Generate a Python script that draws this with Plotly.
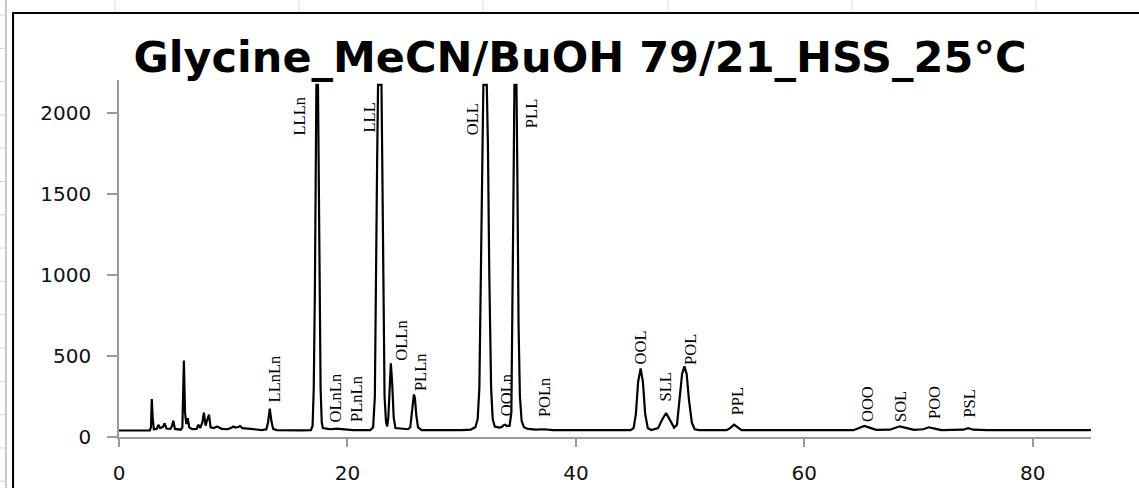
import plotly.graph_objects as go

# chromatogram trace (retention time in min, signal)
rt = [0.0, 1.0, 2.0, 2.7, 2.8, 2.87, 2.95, 3.05, 3.3, 3.45, 3.6, 3.85, 4.0, 4.15,
      4.5, 4.65, 4.75, 4.9, 5.4, 5.55, 5.68, 5.78, 5.9, 6.02, 6.15, 6.4, 6.8,
      6.95, 7.1, 7.3, 7.43, 7.58, 7.7, 7.88, 8.02, 8.3, 8.6, 8.75, 9.0, 9.5,
      9.8, 10.0, 10.2, 10.45, 10.6, 10.8, 11.2, 11.6, 12.5, 12.9, 13.05, 13.2,
      13.35, 13.5, 13.8, 16.0, 16.8, 16.95, 17.05, 17.15, 17.22, 17.28, 17.42,
      17.48, 17.55, 17.65, 17.75, 17.85, 18.3, 18.6, 19.0, 19.3, 19.8, 20.5,
      22.0, 22.25, 22.4, 22.5, 22.6, 22.68, 22.98, 23.05, 23.15, 23.25, 23.38,
      23.48, 23.58, 23.68, 23.8, 23.92, 24.05, 24.2, 25.3, 25.5, 25.62, 25.73,
      25.82, 25.91, 26.02, 26.18, 26.5, 30.0, 30.8, 31.2, 31.4, 31.55, 31.7,
      31.82, 31.9, 32.2, 32.3, 32.42, 32.58, 32.72, 32.9, 33.3, 33.5, 33.65,
      33.8, 33.95, 34.2, 34.35, 34.45, 34.55, 34.62, 34.8, 34.88, 34.98, 35.1,
      35.25, 35.45, 35.8, 36.5, 37.2, 38.0, 43.5, 44.8, 45.05, 45.25, 45.45,
      45.67, 45.87, 46.07, 46.3, 46.6, 47.2, 47.5, 47.9, 48.25, 48.6, 48.85,
      49.1, 49.3, 49.5, 49.7, 49.9, 50.15, 50.4, 50.8, 53.2, 53.5, 53.85, 54.2,
      54.5, 64.3, 64.8, 65.25, 65.7, 66.3, 67.5, 68.0, 68.35, 68.8, 69.6, 70.4,
      70.9, 71.4, 72.0, 73.9, 74.35, 74.8, 76.0, 85.1]
signal = [40, 41, 40, 41, 60, 234, 120, 48, 50, 75, 55, 62, 85, 52,
          50, 70, 100, 50, 45, 60, 473, 150, 80, 117, 60, 48, 50,
          76, 55, 90, 150, 70, 100, 138, 60, 55, 65, 60, 50, 48,
          55, 65, 58, 62, 68, 55, 52, 48, 43, 48, 90, 175,
          95, 50, 43, 41, 42, 70, 300, 900, 1700, 2175, 2175,
          1700, 900, 300, 90, 55, 50, 48, 52, 50, 44, 42,
          42, 60, 250, 800, 1700, 2175, 2175, 1700, 800, 250, 90,
          65, 120, 330, 455, 330, 120, 55, 48, 60, 140, 240,
          263, 240, 140, 60, 42, 42, 46, 60, 110, 300, 1000,
          1800, 2175, 2175, 1800, 1000, 300, 110, 65, 58, 62, 72,
          76, 68, 70, 150, 700, 1600, 2175, 2175, 1600, 700, 250,
          100, 60, 50, 46, 48, 43, 42, 42, 55, 140, 340,
          424, 340, 140, 55, 43, 55, 100, 148, 100, 58, 75,
          230, 390, 436, 390, 230, 90, 48, 42, 42, 55, 76, 55,
          42, 42, 58, 68, 58, 44, 45, 60, 66, 58, 44, 48,
          60, 52, 43, 45, 54, 45, 42, 42]

# peak labels: text, retention time of label centre, signal at label bottom
peak_names = ["LLnLn", "LLLn", "OLnLn", "PLnLn", "LLL", "OLLn", "PLLn", "OLL",
              "OOLn", "PLL", "POLn", "OOL", "SLL", "POL", "PPL", "OOO", "SOL",
              "POO", "PSL"]
label_rt = [13.58, 15.82, 18.93, 20.77, 21.91, 24.76, 26.38, 30.89, 33.92,
            36.11, 37.2, 45.66, 47.81, 50.04, 54.16, 65.51, 68.36, 71.34, 74.5]
label_y = [199, 1851, 76, 82, 1870, 458, 273, 1851, 119, 1895, 113, 433, 205,
           433, 119, 82, 82, 101, 107]

x_ticks = [0, 20, 40, 60, 80]
y_ticks = [0, 500, 1000, 1500, 2000]

TITLE = "Glycine_MeCN/BuOH 79/21_HSS_25°C"
AXIS_GREY = "#9a9a9a"


def main():
    fig = go.Figure()

    fig.add_trace(
        go.Scatter(
            x=rt,
            y=signal,
            mode="lines",
            line={"color": "black", "width": 2.2},
            hoverinfo="x+y",
            showlegend=False,
        )
    )

    # --- peak labels, rotated
    for name, xr, yr in zip(peak_names, label_rt, label_y):
        fig.add_annotation(
            x=xr, y=yr, text=name, textangle=-90,
            xanchor="center", yanchor="bottom", showarrow=False,
            font={"family": "Liberation Serif", "size": 16.5, "color": "black"},
        )

    # --- chart frame and the spreadsheet lines behind it
    shapes = [
        {"type": "rect", "xref": "paper", "yref": "paper",
         "x0": -0.109, "x1": 1.2, "y0": -0.4, "y1": 1.188,
         "line": {"color": "black", "width": 2}},
        {"type": "line", "xref": "paper", "yref": "paper",
         "x0": -0.1163, "x1": -0.1163, "y0": -0.4, "y1": 1.3,
         "line": {"color": "#c8c8c8", "width": 2}},
    ]
    for i in range(15):
        py = 15 + i * 33.3
        yp = (437 - py) / 357
        shapes.append({"type": "line", "xref": "paper", "yref": "paper",
                       "x0": -0.1225, "x1": -0.117, "y0": yp, "y1": yp,
                       "line": {"color": "#d4d4d4", "width": 1}})
    for px in [115, 299, 483, 668, 852, 1036]:
        xp = (px - 119) / 972
        shapes.append({"type": "line", "xref": "paper", "yref": "paper",
                       "x0": xp, "x1": xp, "y0": 1.19, "y1": 1.224,
                       "line": {"color": "#dcdcdc", "width": 1}})

    fig.update_layout(
        width=1139,
        height=488,
        margin={"l": 119, "r": 48, "t": 80, "b": 51, "autoexpand": False},
        paper_bgcolor="white",
        plot_bgcolor="white",
        shapes=shapes,
        title={
            "text": "<b>" + TITLE + "</b>",
            "x": 580 / 1139, "xanchor": "center", "xref": "container",
            "y": 1 - 57 / 488, "yanchor": "middle", "yref": "container",
            "font": {"family": "DejaVu Sans", "size": 43, "color": "black"},
            "automargin": False,
        },
        xaxis={
            "range": [0, 85.1],
            "tickvals": x_ticks,
            "ticks": "outside", "ticklen": 8, "tickwidth": 1.5,
            "tickcolor": AXIS_GREY,
            "showline": True, "linecolor": AXIS_GREY, "linewidth": 1.5,
            "showgrid": False, "zeroline": False, "automargin": False,
            "ticklabelstandoff": 9,
            "tickfont": {"family": "DejaVu Sans", "size": 20, "color": "#111"},
        },
        yaxis={
            "range": [0, 2205],
            "tickvals": y_ticks,
            "ticks": "outside", "ticklen": 10, "tickwidth": 1.5,
            "tickcolor": AXIS_GREY,
            "showline": True, "linecolor": AXIS_GREY, "linewidth": 1.5,
            "showgrid": False, "zeroline": False, "automargin": False,
            "ticklabelstandoff": 12,
            "tickfont": {"family": "DejaVu Sans", "size": 20, "color": "#111"},
        },
    )

    # page body margin off, so the figure sits at the window's corner
    fig.write_html("out.html",
                   config={"displayModeBar": False},
                   post_script="document.body.style.margin='0';")


if __name__ == "__main__":
    main()
